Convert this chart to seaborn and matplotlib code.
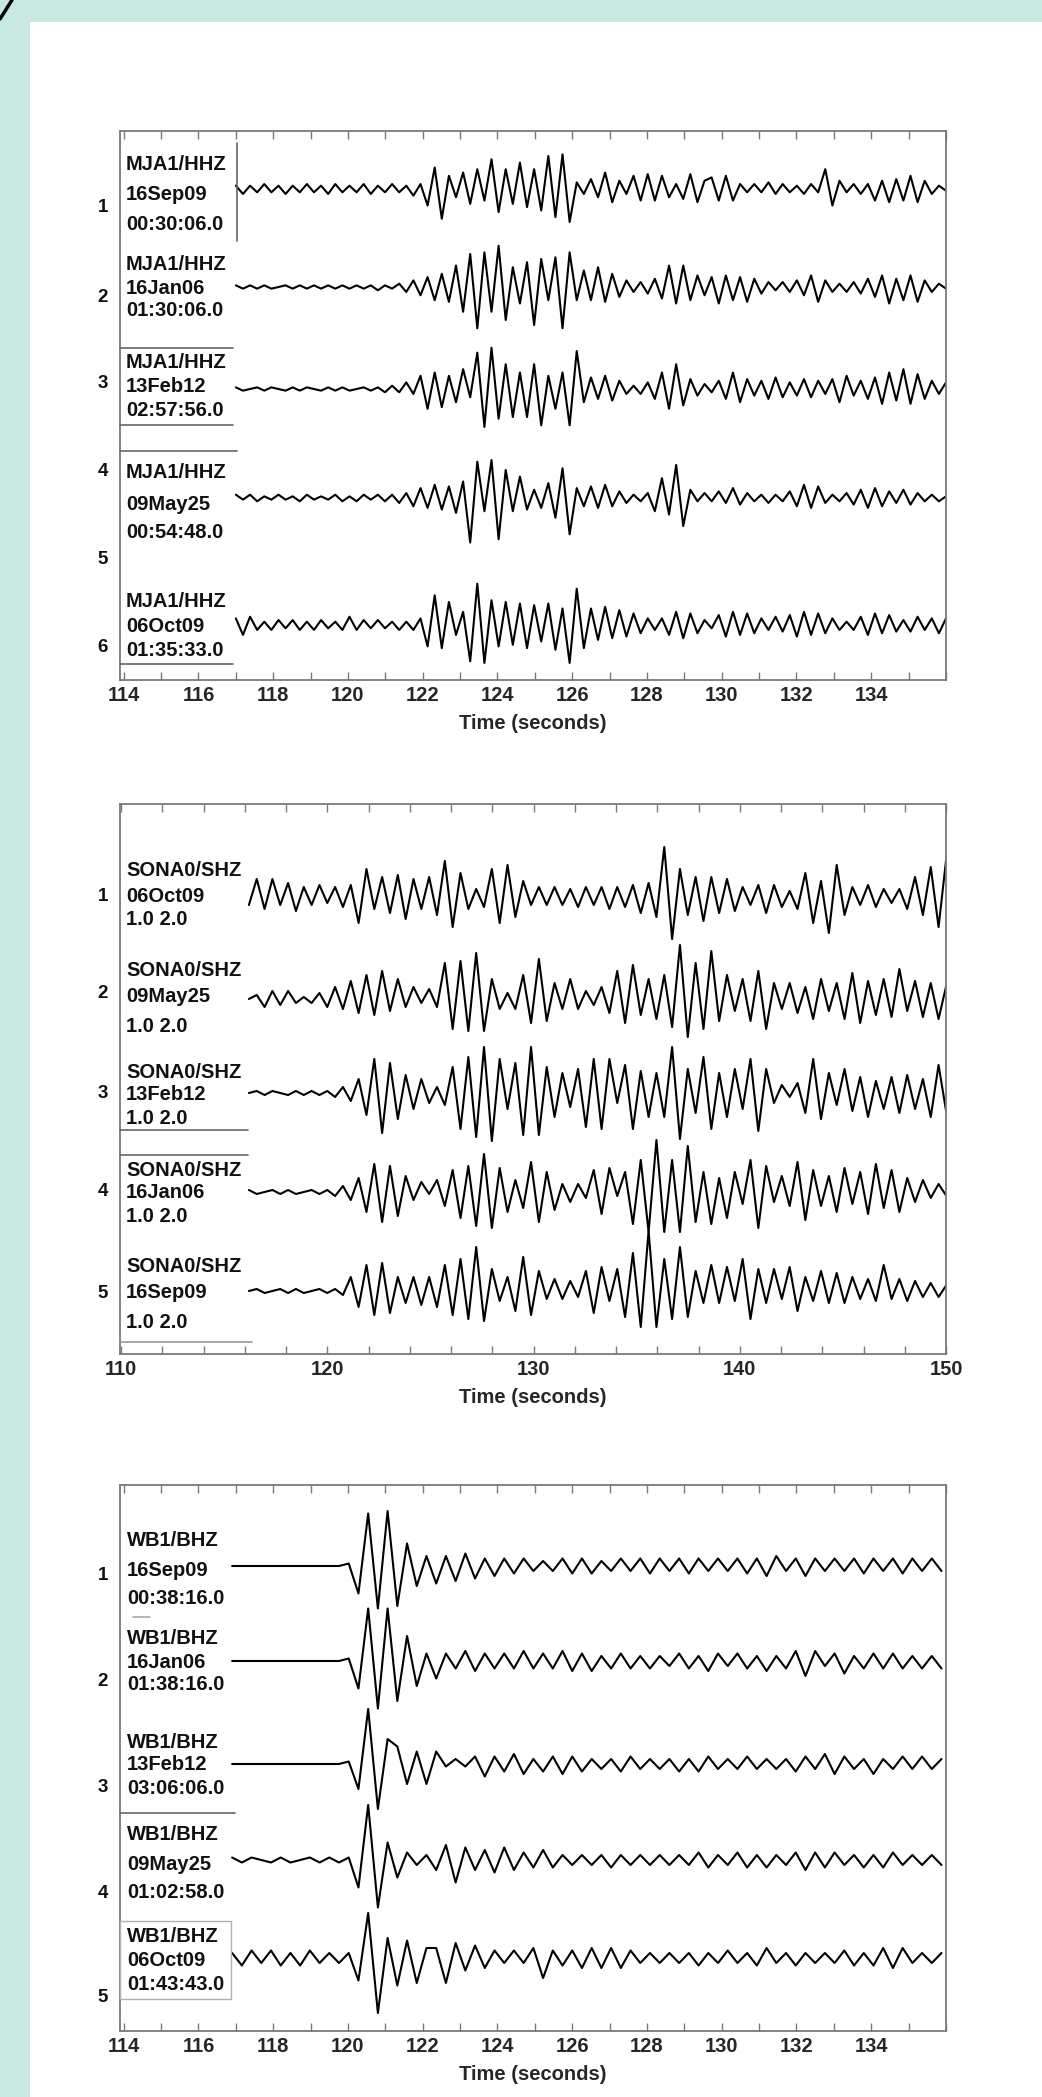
import numpy as np
import matplotlib
matplotlib.use("Agg")
import matplotlib.pyplot as plt
import seaborn as sns
from matplotlib.lines import Line2D
from matplotlib.patches import Rectangle

# ---------------------------------------------------------------------------
# Waveform data: alternating peak / trough amplitudes of each record,
# sampled every DT seconds from the record start time T0.
# ---------------------------------------------------------------------------

# MJA1/HHZ records (panel 1), amplitude units of 1/20 of the largest swing
MJA1_T0 = 117.0
MJA1_DT = 0.19
mja1_16sep09 = [2,-3,2,-2,3,-2,2,-3,2,-2,3,-2,2,-3,3,-2,2,-2,3,-3,2,-2,
                3,-2,2,-4,3,
                -10,13,-18,8,-5,10,-9,12,-7,18,-14,12,-9,16,-11,12,-13,20,-17,21,-20,4,-3,
                6,-5,10,-8,5,-3,8,-7,9,-7,8,-5,3,-6,9,-8,5,
                7,-7,8,-7,3,-2,3,-2,4,-3,3,-2,2,-3,3,-2,12,-10,5,-2,3,-3,3,-7,5,-8,6,-7,8,-8,5,-3,2,-1]
mja1_16jan06 = [1,-1,1,-1,1,-1,0,1,-1,1,-1,1,-1,1,-1,1,-1,1,-1,1,-2,1,-1,
                2,-3,4,-5,6,-8,
                8,-9,13,-15,20,-25,21,-15,25,-20,12,-10,15,-23,17,-8,18,-25,21,-8,
                10,-8,12,-9,8,-6,4,-3,3,-4,5,-7,13,-10,13,-8,7,-5,6,
                -10,7,-8,6,-9,5,-4,3,-2,3,-3,4,-5,7,-9,4,-3,2,-3,3,-4,5,-6,7,-10,5,-8,7,-9,4,-3,2,-1]
mja1_13feb12 = [1,-1,0,1,-1,1,0,-1,1,-1,1,0,-1,1,-1,1,-1,0,1,-1,1,-2,2,-2,
                4,-3,
                8,-12,10,-11,8,-8,12,-5,22,-23,25,-18,15,-17,10,-17,15,-22,8,-12,10,-22,23,
                -8,7,-6,8,-7,5,-3,2,-3,4,-6,10,-12,15,-10,6,-4,3,-2,
                5,-6,10,-8,6,-4,5,-6,7,-5,4,-4,6,-5,5,-3,6,-8,8,-4,5,-6,7,-9,10,-7,12,-9,9,-6,5,-3,4]
mja1_09may25 = [2,-1,2,-2,1,-1,2,-1,1,-2,2,-1,1,-1,2,-2,1,-2,2,-1,2,-2,2,-3,
                3,-5,6,
                -6,8,-7,7,-9,10,-27,22,-8,23,-25,17,-8,13,-7,5,-6,9,-12,18,-22,6,
                -5,7,-6,8,-5,4,-3,2,-2,3,-8,12,-10,20,-17,5,-2,3,-2,
                4,-3,6,-4,3,-2,2,-3,2,-2,4,-5,8,-6,7,-3,2,-2,3,-4,5,-6,6,-5,4,-3,5,-4,3,-2,2,-2,1]
mja1_06oct09 = [4,-6,5,-3,2,-3,3,-2,3,-3,2,-3,3,-2,2,-3,5,-3,3,-2,3,-2,2,-3,
                2,-3,4,
                -13,18,-14,14,-6,8,-22,25,-23,15,-13,14,-12,13,-14,12,-10,13,-15,10,-23,22,
                -14,10,-9,11,-8,9,-7,7,-5,4,-3,4,-6,8,-8,7,-5,3,-2,
                6,-7,8,-6,7,-5,4,-3,5,-4,6,-7,8,-6,7,-5,4,-3,2,-3,5,-6,7,-5,6,-4,3,-4,5,-3,4,-5,4]

# SONA0/SHZ records (panel 2), band 1.0-2.0
SONA_T0 = 116.2
SONA_DT = 0.38
sona_06oct09 = [-4,9,-6,9,-4,7,-7,5,-4,6,-3,5,-5,6,-13,14,-6,10,-8,
                11,-11,9,-6,10,-9,18,-15,12,-6,4,-5,14,-13,16,-10,8,-4,
                5,-4,5,-4,4,-5,5,-4,5,-6,5,-5,6,-8,7,
                -10,25,-21,14,-9,10,
                -12,10,-8,9,-7,5,-4,6,-8,6,-5,3,-6,12,-13,8,-18,16,-9,5,-4,6,-5,4,-3,4,-6,10,-9,15,-15,20]
sona_09may25 = [0,2,-4,4,-3,4,-2,1,
                -2,3,-4,6,-5,9,-7,12,-8,14,-6,10,
                -4,6,-2,5,-4,18,-15,19,-16,23,
                -16,10,-5,3,-5,12,-12,20,-11,
                8,-5,10,-5,4,-3,6,-7,14,-12,17,-8,10,-10,12,-14,27,-19,18,-15,
                24,-11,12,-6,10,-11,14,-15,8,-5,8,-7,6,-10,10,-6,8,-10,13,-12,9,-8,10,-9,15,-6,9,-9,8,-10,7]
sona_13feb12 = [0,1,-1,1,0,-1,1,-1,1,-1,1,
                -2,3,-4,7,-11,17,-20,15,-13,
                9,-8,7,-5,3,-6,13,-18,18,-22,
                23,-24,17,-8,15,-21,23,-21,13,
                -12,10,-7,12,-17,17,-18,17,-5,14,-18,11,-12,10,-12,23,-23,12,-10,18,
                -18,10,-12,12,-8,17,-19,12,-5,4,-2,5,-10,17,-13,10,-6,12,-9,8,-12,6,-8,8,-10,9,-8,7,-12,14,-10]
sona_16jan06 = [1,-1,0,1,-1,1,-1,0,1,-1,1,
                -2,3,-4,7,-10,14,-15,13,-12,
                8,-4,5,-1,6,-7,11,-13,13,-17,
                19,-18,12,-10,6,-8,15,-15,10,
                -9,4,-5,4,-3,11,-11,12,-2,10,-16,16,-20,26,-20,16,-20,23,-15,10,
                -16,7,-13,10,-6,16,-18,13,-5,8,-7,15,-14,11,-7,8,-10,12,-6,10,-11,14,-8,11,-10,7,-5,6,-3,4,-2]
sona_16sep09 = [0,1,-1,0,1,-1,1,-1,0,1,-1,
                1,-2,7,-8,13,-12,14,-11,7,
                -6,7,-7,7,-8,13,-12,16,-14,22,
                -15,11,-5,7,-10,17,-12,10,-4,
                6,-4,5,-3,10,-11,12,-5,11,-13,19,-18,30,-18,16,-14,22,-13,10,-6,
                13,-6,12,-5,16,-14,11,-6,11,-4,12,-10,7,-5,10,-6,9,-6,7,-4,6,-5,13,-4,6,-5,5,-3,4,-3,3]

# WB1/BHZ records (panel 3)
WB1_T0 = 116.9
WB1_DT = 0.26
wb1_16sep09 = [0,0,0,0,0,0,0,0,0,0,0,0,1,
               -11,21,-17,22,-16,9,-8,4,
               -7,4,-6,5,-5,3,-4,3,-3,3,-2,2,-2,3,-3,3,-3,2,-2,3,-2,3,-3,3,-2,3,-3,3,-2,3,-2,3,
               -3,3,-4,4,-2,3,-4,3,-2,3,-2,3,-3,3,-2,3,-3,3,-2,3,-2]
wb1_16jan06 = [0,0,0,0,0,0,0,0,0,0,0,0,1,
               -11,21,-19,21,-16,10,-10,3,
               -7,3,-3,4,-4,3,-3,3,-3,4,-3,3,-3,4,-4,3,-4,2,-3,3,-3,2,-3,2,-2,3,-3,2,-4,3,-2,3,
               -3,2,-4,2,-3,4,-6,4,-2,3,-5,2,-3,3,-3,3,-3,2,-3,2,-3]
wb1_13feb12 = [0,0,0,0,0,0,0,0,0,0,0,0,1,
               -10,22,-18,10,7,-8,5,-8,
               5,-1,2,-1,3,-5,3,-3,4,-4,2,-3,3,-4,3,-3,2,-2,2,-3,3,-2,2,-2,2,-3,2,-3,3,-2,2,-2,
               3,-2,2,-2,2,-3,3,-2,4,-4,3,-2,2,-4,2,-2,3,-2,3,-2,2]
wb1_09may25 = [1,-1,1,0,-1,1,-1,0,1,-1,1,-1,1,
               -11,22,-19,7,-7,3,-2,2,
               -4,6,-9,5,-4,4,-5,5,-4,3,-3,4,-3,2,-2,2,-2,2,-3,2,-2,2,-2,2,-2,2,-2,3,-3,2,-2,3,
               -3,2,-3,2,-2,3,-4,3,-3,3,-2,2,-3,2,-3,3,-2,2,-2,2,-2]
wb1_06oct09 = [2,-3,3,-2,3,-3,2,-3,3,-2,2,-2,2,
               -9,18,-22,8,-11,7,-10,4,
               4,-10,6,-5,5,-4,3,-2,3,-2,4,-8,3,-3,3,-4,4,-4,4,-4,3,-2,2,-2,2,-2,2,-3,2,-2,3,-2,
               2,-3,4,-2,2,-3,2,-2,2,-2,3,-3,2,-3,4,-4,4,-2,2,-2,2]

# Record annotations
mja1_labels = [("MJA1/HHZ", "16Sep09", "00:30:06.0"),
               ("MJA1/HHZ", "16Jan06", "01:30:06.0"),
               ("MJA1/HHZ", "13Feb12", "02:57:56.0"),
               ("MJA1/HHZ", "09May25", "00:54:48.0"),
               ("MJA1/HHZ", "06Oct09", "01:35:33.0")]
mja1_numbers = ["1", "2", "3", "4", "5", "6"]
sona_labels = [("SONA0/SHZ", "06Oct09", "1.0 2.0"),
               ("SONA0/SHZ", "09May25", "1.0 2.0"),
               ("SONA0/SHZ", "13Feb12", "1.0 2.0"),
               ("SONA0/SHZ", "16Jan06", "1.0 2.0"),
               ("SONA0/SHZ", "16Sep09", "1.0 2.0")]
sona_numbers = ["1", "2", "3", "4", "5"]
wb1_labels = [("WB1/BHZ", "16Sep09", "00:38:16.0"),
              ("WB1/BHZ", "16Jan06", "01:38:16.0"),
              ("WB1/BHZ", "13Feb12", "03:06:06.0"),
              ("WB1/BHZ", "09May25", "01:02:58.0"),
              ("WB1/BHZ", "06Oct09", "01:43:43.0")]
wb1_numbers = ["1", "2", "3", "4", "5"]

ticks_a = [114, 116, 118, 120, 122, 124, 126, 128, 130, 132, 134]
ticks_b = [110, 120, 130, 140, 150]

# ---------------------------------------------------------------------------
# Layout (pixel rows / columns of the 1042 x 2097 canvas)
# ---------------------------------------------------------------------------
W, H = 1042, 2097
TEAL = "#c8e9e1"
SPINE = "#7a7a7a"

sns.set_theme(style="white")
plt.rcParams["font.family"] = ["Liberation Sans", "DejaVu Sans"]
plt.rcParams["font.weight"] = "bold"

fig = plt.figure(figsize=(W / 100, H / 100), dpi=100)
fig.patch.set_facecolor("white")


def fx(px):
    return px / W


def fy(py):
    return 1 - py / H


# teal frame and corner stroke
fig.add_artist(Rectangle((0, fy(22)), 1, 22 / H, transform=fig.transFigure,
                         color=TEAL, lw=0, zorder=0))
fig.add_artist(Rectangle((0, 0), fx(30), 1, transform=fig.transFigure,
                         color=TEAL, lw=0, zorder=0))
fig.add_artist(Line2D([fx(0), fx(12)], [fy(19), fy(0)], transform=fig.transFigure,
                      color="black", lw=2.5))

LEFT, RIGHT = 120, 946


def make_axes(top, bottom, xlim, major, minor_step):
    ax = fig.add_axes([fx(LEFT), fy(bottom), (RIGHT - LEFT) / W, (bottom - top) / H])
    ax.set_facecolor("none")
    ax.set_xlim(*xlim)
    ax.set_ylim(bottom, top)          # pixel rows, growing downwards
    ax.set_yticks([])
    ax.set_xticks(major)
    ax.set_xticks(np.arange(major[0], xlim[1] + 0.01, minor_step), minor=True)
    ax.set_xticklabels([str(v) for v in major])
    ax.tick_params(axis="x", which="both", direction="in", top=True, bottom=True,
                   length=5.5, width=1.0, color=SPINE, labelsize=14.5, pad=4)
    for s in ax.spines.values():
        s.set_color(SPINE)
        s.set_linewidth(1.3)
    ax.set_xlabel("Time (seconds)", fontsize=14.5, fontweight="bold", labelpad=7)
    return ax


def draw_traces(ax, t0, dt, waves, baselines, px_per_unit):
    for amp, base in zip(waves, baselines):
        amp = np.asarray(amp, dtype=float)
        t = t0 + dt * np.arange(len(amp))
        y = base - amp * px_per_unit
        sns.lineplot(x=t, y=y, ax=ax, color="black", linewidth=1.5,
                     estimator=None, sort=False, solid_joinstyle="round")


def draw_labels(labels, rows, x_text, numbers, number_rows):
    for lines, ys in zip(labels, rows):
        for txt, yy in zip(lines, ys):
            fig.text(fx(x_text), fy(yy), txt, ha="left", va="center",
                     fontsize=14.5, fontweight="bold", color="#111111")
    for num, yy in zip(numbers, number_rows):
        fig.text(fx(103), fy(yy), num, ha="center", va="center",
                 fontsize=13.5, fontweight="bold", color="#111111")


def hline(y, x0, x1, color="#666666", lw=1.2):
    fig.add_artist(Line2D([fx(x0), fx(x1)], [fy(y), fy(y)],
                          transform=fig.transFigure, color=color, lw=lw))


def vline(x, y0, y1, color="#666666", lw=1.2):
    fig.add_artist(Line2D([fx(x), fx(x)], [fy(y0), fy(y1)],
                          transform=fig.transFigure, color=color, lw=lw))


# ---------------- panel 1: MJA1/HHZ ----------------
ax1 = make_axes(131, 680, (113.9, 136.0), ticks_a, 1)
draw_traces(ax1, MJA1_T0, MJA1_DT,
            [mja1_16sep09, mja1_16jan06, mja1_13feb12, mja1_09may25, mja1_06oct09],
            [189, 287, 389, 498, 625], 1.65)
draw_labels(mja1_labels,
            [(165, 195, 224), (264, 289, 311), (363, 387, 410),
             (473, 504, 533), (601, 626, 650)],
            126, mja1_numbers, [208, 297, 384, 472, 559, 648])
vline(237, 143, 241)
hline(348, 120, 233)
hline(425, 120, 233)
hline(451, 120, 237)
hline(664, 120, 233)

# ---------------- panel 2: SONA0/SHZ ----------------
ax2 = make_axes(804, 1354, (109.95, 150.0), ticks_b, 2)
draw_traces(ax2, SONA_T0, SONA_DT,
            [sona_06oct09, sona_09may25, sona_13feb12, sona_16jan06, sona_16sep09],
            [897, 999, 1093, 1192, 1291], 2.0)
draw_labels(sona_labels,
            [(871, 896, 920), (970, 997, 1027), (1073, 1094, 1118),
             (1171, 1193, 1217), (1267, 1293, 1323)],
            126, sona_numbers, [896, 994, 1093, 1192, 1293])
hline(1130, 120, 248)
hline(1155, 120, 248)
hline(1342, 120, 252, color="#999999")

# ---------------- panel 3: WB1/BHZ ----------------
ax3 = make_axes(1485, 2031, (113.9, 136.0), ticks_a, 1)
draw_traces(ax3, WB1_T0, WB1_DT,
            [wb1_16sep09, wb1_16jan06, wb1_13feb12, wb1_09may25, wb1_06oct09],
            [1566, 1661, 1764, 1860, 1958], 2.5)
draw_labels(wb1_labels,
            [(1540, 1570, 1599), (1638, 1662, 1685), (1742, 1765, 1788),
             (1835, 1864, 1892), (1936, 1961, 1984)],
            127, wb1_numbers, [1576, 1682, 1788, 1893, 1998])
hline(1813, 120, 235)
hline(1617, 133, 150, color="#aaaaaa")
fig.add_artist(Rectangle((fx(120), fy(1999)), (231 - 120) / W, (1999 - 1921) / H,
                         transform=fig.transFigure, fill=False,
                         edgecolor="#b0b0b0", lw=1.0))

fig.savefig("out.png", dpi=100, facecolor=fig.get_facecolor())
